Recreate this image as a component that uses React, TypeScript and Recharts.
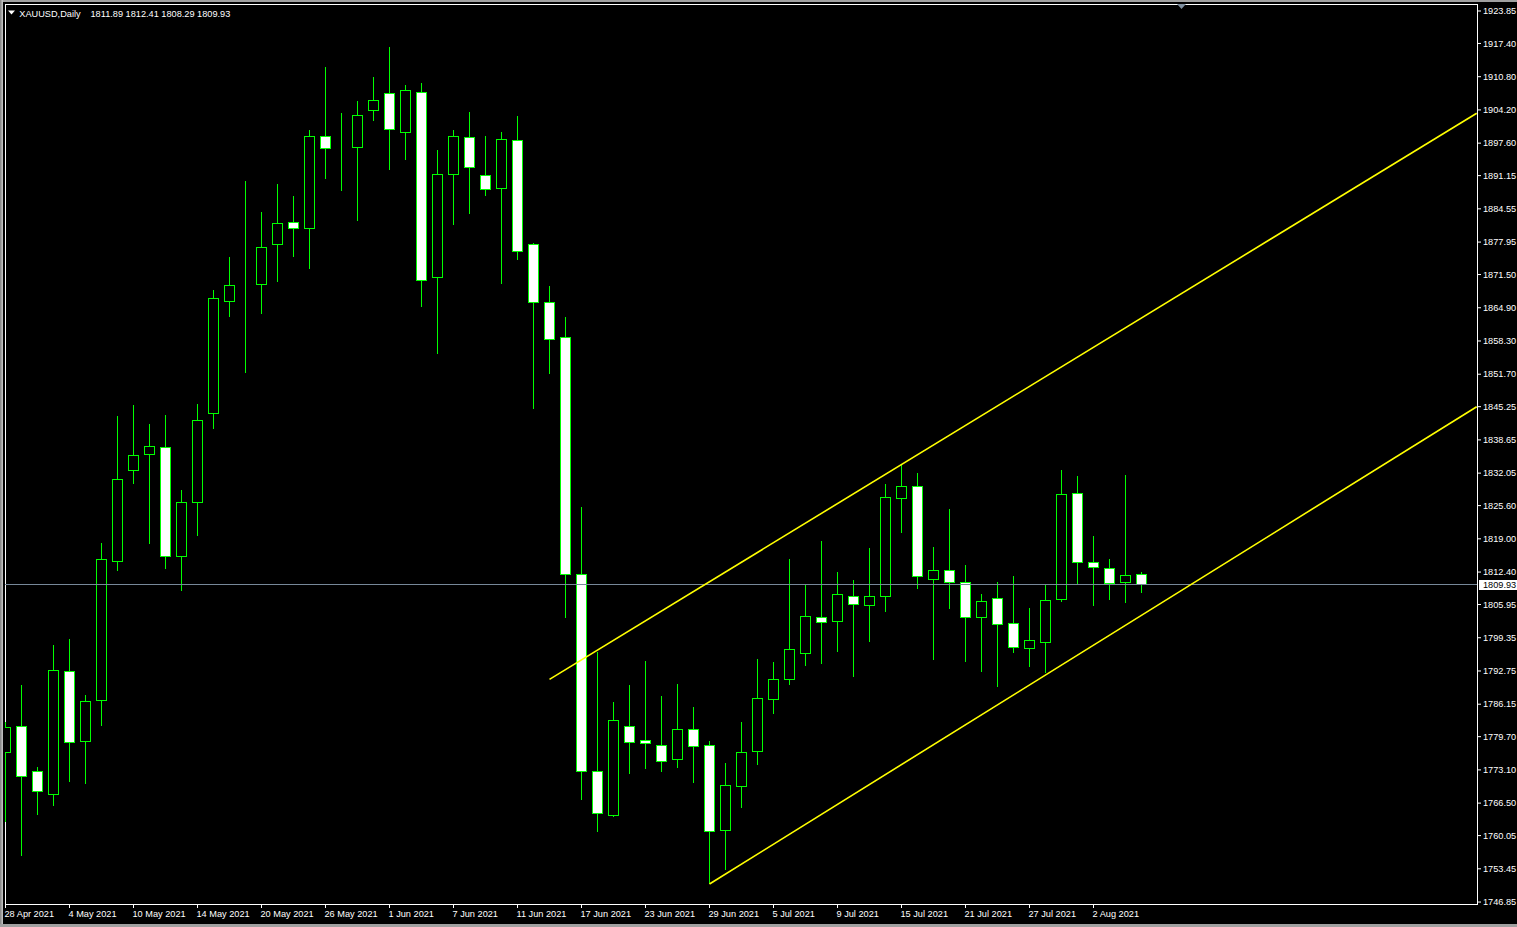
import React from 'react';
import { ComposedChart, Bar, XAxis, YAxis, ReferenceLine, ReferenceArea } from 'recharts';

// XAUUSD daily, 28 Apr 2021 .. 5 Aug 2021
const dates = [
  '28 Apr 2021', '29 Apr 2021', '30 Apr 2021', '3 May 2021', '4 May 2021', '5 May 2021', '6 May 2021', '7 May 2021',
  '10 May 2021', '11 May 2021', '12 May 2021', '13 May 2021', '14 May 2021', '17 May 2021', '18 May 2021', '19 May 2021',
  '20 May 2021', '21 May 2021', '24 May 2021', '25 May 2021', '26 May 2021', '27 May 2021', '28 May 2021', '31 May 2021',
  '1 Jun 2021', '2 Jun 2021', '3 Jun 2021', '4 Jun 2021', '7 Jun 2021', '8 Jun 2021', '9 Jun 2021', '10 Jun 2021',
  '11 Jun 2021', '14 Jun 2021', '15 Jun 2021', '16 Jun 2021', '17 Jun 2021', '18 Jun 2021', '21 Jun 2021', '22 Jun 2021',
  '23 Jun 2021', '24 Jun 2021', '25 Jun 2021', '28 Jun 2021', '29 Jun 2021', '30 Jun 2021', '1 Jul 2021', '2 Jul 2021',
  '5 Jul 2021', '6 Jul 2021', '7 Jul 2021', '8 Jul 2021', '9 Jul 2021', '12 Jul 2021', '13 Jul 2021', '14 Jul 2021',
  '15 Jul 2021', '16 Jul 2021', '19 Jul 2021', '20 Jul 2021', '21 Jul 2021', '22 Jul 2021', '23 Jul 2021', '26 Jul 2021',
  '27 Jul 2021', '28 Jul 2021', '29 Jul 2021', '30 Jul 2021', '2 Aug 2021', '3 Aug 2021', '4 Aug 2021', '5 Aug 2021',
];

const opens = [
  1776.59, 1781.76, 1772.82, 1768.25, 1792.68, 1778.78, 1786.92, 1814.53, 1832.61, 1835.79, 1837.18, 1815.53,
  1826.25, 1843.93, 1866.18, 1869.42, 1869.48, 1877.42, 1881.88, 1880.61, 1898.96, 1896.38, 1896.70, 1904.04,
  1907.50, 1899.67, 1907.70, 1870.95, 1891.33, 1898.76, 1891.21, 1888.55, 1898.17, 1877.50, 1865.98, 1859.03,
  1811.87, 1772.87, 1764.12, 1781.77, 1778.88, 1778.04, 1775.20, 1781.04, 1778.04, 1761.14, 1769.88, 1776.79,
  1787.12, 1791.09, 1796.26, 1803.33, 1802.61, 1807.58, 1805.79, 1807.58, 1827.05, 1829.43, 1810.96, 1812.75,
  1810.28, 1803.41, 1807.19, 1802.22, 1797.25, 1798.44, 1806.99, 1828.04, 1814.33, 1813.14, 1810.36, 1811.89,
];
const highs = [
  1782.55, 1789.96, 1773.67, 1797.90, 1799.10, 1787.98, 1818.17, 1843.40, 1845.58, 1841.81, 1843.60, 1828.70,
  1845.78, 1868.43, 1874.98, 1890.08, 1883.92, 1889.48, 1887.10, 1900.21, 1912.73, 1903.59, 1905.97, 1910.74,
  1916.70, 1909.15, 1909.55, 1896.24, 1900.21, 1903.79, 1899.02, 1899.81, 1902.99, 1877.76, 1869.22, 1863.06,
  1825.28, 1796.46, 1786.50, 1790.02, 1794.81, 1787.85, 1790.24, 1785.67, 1778.88, 1774.38, 1782.69, 1795.12,
  1794.53, 1814.99, 1809.82, 1818.57, 1812.41, 1810.82, 1817.17, 1829.89, 1833.66, 1832.07, 1817.37, 1824.86,
  1813.74, 1808.04, 1810.42, 1811.61, 1805.26, 1809.82, 1832.67, 1831.48, 1819.56, 1814.99, 1831.68, 1812.41,
];
const lows = [
  1762.68, 1756.05, 1764.19, 1765.98, 1770.75, 1770.36, 1781.87, 1812.67, 1829.95, 1818.03, 1813.06, 1808.69,
  1819.62, 1840.76, 1863.12, 1852.00, 1863.66, 1870.02, 1874.98, 1872.60, 1890.54, 1888.09, 1882.13, 1902.00,
  1892.26, 1894.31, 1865.11, 1855.77, 1881.40, 1883.58, 1887.10, 1869.68, 1874.45, 1844.73, 1851.68, 1803.19,
  1767.03, 1760.76, 1763.74, 1772.20, 1773.25, 1772.66, 1773.40, 1770.41, 1750.43, 1753.19, 1765.55, 1774.13,
  1784.26, 1790.02, 1793.79, 1794.19, 1796.58, 1791.61, 1798.56, 1804.52, 1820.22, 1808.97, 1794.99, 1805.12,
  1794.59, 1792.60, 1789.62, 1796.38, 1793.60, 1792.40, 1806.51, 1809.96, 1805.71, 1806.90, 1806.31, 1808.29,
];
const closes = [
  1781.56, 1771.83, 1768.84, 1792.88, 1778.58, 1786.72, 1814.93, 1830.82, 1835.59, 1837.38, 1815.53, 1826.25,
  1842.54, 1866.78, 1869.36, 1869.42, 1876.91, 1881.68, 1880.61, 1898.96, 1896.58, 1896.38, 1903.13, 1906.11,
  1900.27, 1908.10, 1870.35, 1891.41, 1898.96, 1892.72, 1888.35, 1898.36, 1876.11, 1865.98, 1858.63, 1811.87,
  1772.87, 1764.35, 1782.83, 1778.64, 1778.26, 1774.69, 1781.04, 1777.82, 1760.90, 1770.09, 1776.47, 1787.32,
  1791.09, 1797.05, 1803.61, 1802.41, 1807.98, 1805.99, 1807.58, 1827.25, 1829.43, 1811.55, 1812.75, 1810.36,
  1803.41, 1806.59, 1802.02, 1797.45, 1798.84, 1806.79, 1827.84, 1814.33, 1813.34, 1810.16, 1811.75, 1809.93,
];

const priceTicks = [
  1923.85, 1917.40, 1910.80, 1904.20, 1897.60, 1891.15, 1884.55, 1877.95, 1871.50, 1864.90, 1858.30, 1851.70,
  1845.25, 1838.65, 1832.05, 1825.60, 1819.00, 1812.40, 1805.95, 1799.35, 1792.75, 1786.15, 1779.70, 1773.10,
  1766.50, 1760.05, 1753.45, 1746.85,
];
const dateTicks = [0, 4, 8, 12, 16, 20, 24, 28, 32, 36, 40, 44, 48, 52, 56, 60, 64, 68];

// trend lines (bar index, price)
const upperLine = [{ x: 34, y: 1791.07 }, { x: 91.95, y: 1903.53 }];
const lowerLine = [{ x: 44, y: 1750.43 }, { x: 91.95, y: 1845.24 }];
const lastPrice = 1809.93;

const X_MIN = -0.03125;
const X_MAX = 91.96875;
const Y_MIN = 1746.46;
const Y_MAX = 1925.24;

const GREEN = '#00ff00';
const FONT = '"Liberation Sans", Arial, sans-serif';

const rows = dates.map((d, i) => ({
  i,
  date: d,
  o: opens[i],
  h: highs[i],
  l: lows[i],
  c: closes[i],
  range: [lows[i], highs[i]],
}));

const Candle = (props: any) => {
  const { x, y, width, height, payload } = props;
  if (x == null || y == null || !payload) return null;
  const { o, h, l, c } = payload;
  const top = Math.min(y, y + height);
  const hgt = Math.abs(height);
  const k = hgt / (h - l);
  const cx = Math.round(x + width / 2) + 0.5;
  const yo = top + (h - o) * k;
  const yc = top + (h - c) * k;
  const bTop = Math.min(yo, yc);
  const bBot = Math.max(yo, yc);
  const fill = c < o ? '#ffffff' : '#000000';
  return (
    <g shapeRendering="crispEdges">
      <line x1={cx} x2={cx} y1={top} y2={bTop} stroke={GREEN} strokeWidth={1} />
      <line x1={cx} x2={cx} y1={bBot} y2={top + hgt} stroke={GREEN} strokeWidth={1} />
      <rect x={cx - 5} y={bTop} width={10} height={Math.max(bBot - bTop, 0)} fill={fill} stroke={GREEN} strokeWidth={1} />
    </g>
  );
};

const DateTick = (props: any) => {
  const { x, y, payload } = props;
  return (
    <text x={x - 1} y={y + 8.5} fill="#ffffff" fontSize={9.2} fontFamily={FONT} textAnchor="start">
      {dates[payload.value]}
    </text>
  );
};

const BidLabel = (props: any) => {
  const vb = props.viewBox || {};
  const right = vb.x + vb.width;
  const yy = vb.y;
  return (
    <g>
      <rect x={right + 2} y={yy - 4.5} width={40} height={10} fill="#ffffff" shapeRendering="crispEdges" />
      <text x={right + 6} y={yy + 3.6} fill="#000000" fontSize={9.2} fontFamily={FONT}>
        {lastPrice.toFixed(2)}
      </text>
    </g>
  );
};

export default function App() {
  return (
    <div
      style={{
        position: 'fixed',
        left: 0,
        top: 0,
        width: 1517,
        height: 927,
        background: '#000',
        overflow: 'hidden',
      }}
    >
      <ComposedChart width={1517} height={927} data={rows} margin={{ top: 4, right: 0, bottom: 0, left: 5 }}>
        <XAxis
          dataKey="i"
          type="number"
          domain={[X_MIN, X_MAX]}
          allowDataOverflow
          ticks={dateTicks}
          interval={0}
          height={23}
          axisLine={false}
          tickLine={{ stroke: '#ffffff' }}
          tickSize={4}
          tickMargin={0}
          tick={<DateTick />}
        />
        <YAxis
          orientation="right"
          type="number"
          domain={[Y_MIN, Y_MAX]}
          allowDataOverflow
          ticks={priceTicks}
          interval={0}
          width={40}
          axisLine={false}
          tickLine={{ stroke: '#ffffff' }}
          tickSize={4}
          tickMargin={2}
          tick={{ fill: '#ffffff', fontSize: 9.2, fontFamily: FONT }}
          tickFormatter={(v: number) => v.toFixed(2)}
        />
        <ReferenceArea
          x1={X_MIN}
          x2={X_MAX}
          y1={Y_MIN}
          y2={Y_MAX}
          fill="#000"
          fillOpacity={0}
          stroke="#ffffff"
          strokeWidth={1}
          ifOverflow="visible"
          shapeRendering="crispEdges"
        />
        <ReferenceLine
          y={lastPrice}
          stroke="#778899"
          strokeWidth={1}
          shapeRendering="crispEdges"
          label={<BidLabel />}
        />
        <Bar dataKey="range" barSize={9} shape={(p: any) => <Candle {...p} />} isAnimationActive={false} />
        <ReferenceLine segment={upperLine} stroke="#ffff00" strokeWidth={1.6} ifOverflow="visible" />
        <ReferenceLine segment={lowerLine} stroke="#ffff00" strokeWidth={1.6} ifOverflow="visible" />
      </ComposedChart>

      {/* window edges */}
      <div style={{ position: 'absolute', left: 0, top: 0, width: 1517, height: 2, background: '#a0a0a0' }} />
      <div style={{ position: 'absolute', left: 0, top: 0, width: 3, height: 927, background: 'linear-gradient(to right, #808080, #c8c8c8)' }} />
      <div style={{ position: 'absolute', left: 0, top: 924, width: 1517, height: 3, background: '#a0a0a0' }} />

      <svg
        width={300}
        height={20}
        style={{ position: 'absolute', left: 0, top: 0 }}
      >
        <polygon points="8,10.5 15,10.5 11.5,14.5" fill="#ffffff" />
        <text x={19.3} y={16.5} fill="#ffffff" fontSize={9.2} fontFamily={FONT}>
          XAUUSD,Daily
        </text>
        <text x={90.5} y={16.5} fill="#ffffff" fontSize={9.2} fontFamily={FONT}>
          1811.89 1812.41 1808.29 1809.93
        </text>
      </svg>
      <svg width={20} height={12} style={{ position: 'absolute', left: 1172, top: 0 }}>
        <polygon points="5,4 14,4 9.5,9" fill="#7f8fa0" />
      </svg>
    </div>
  );
}
